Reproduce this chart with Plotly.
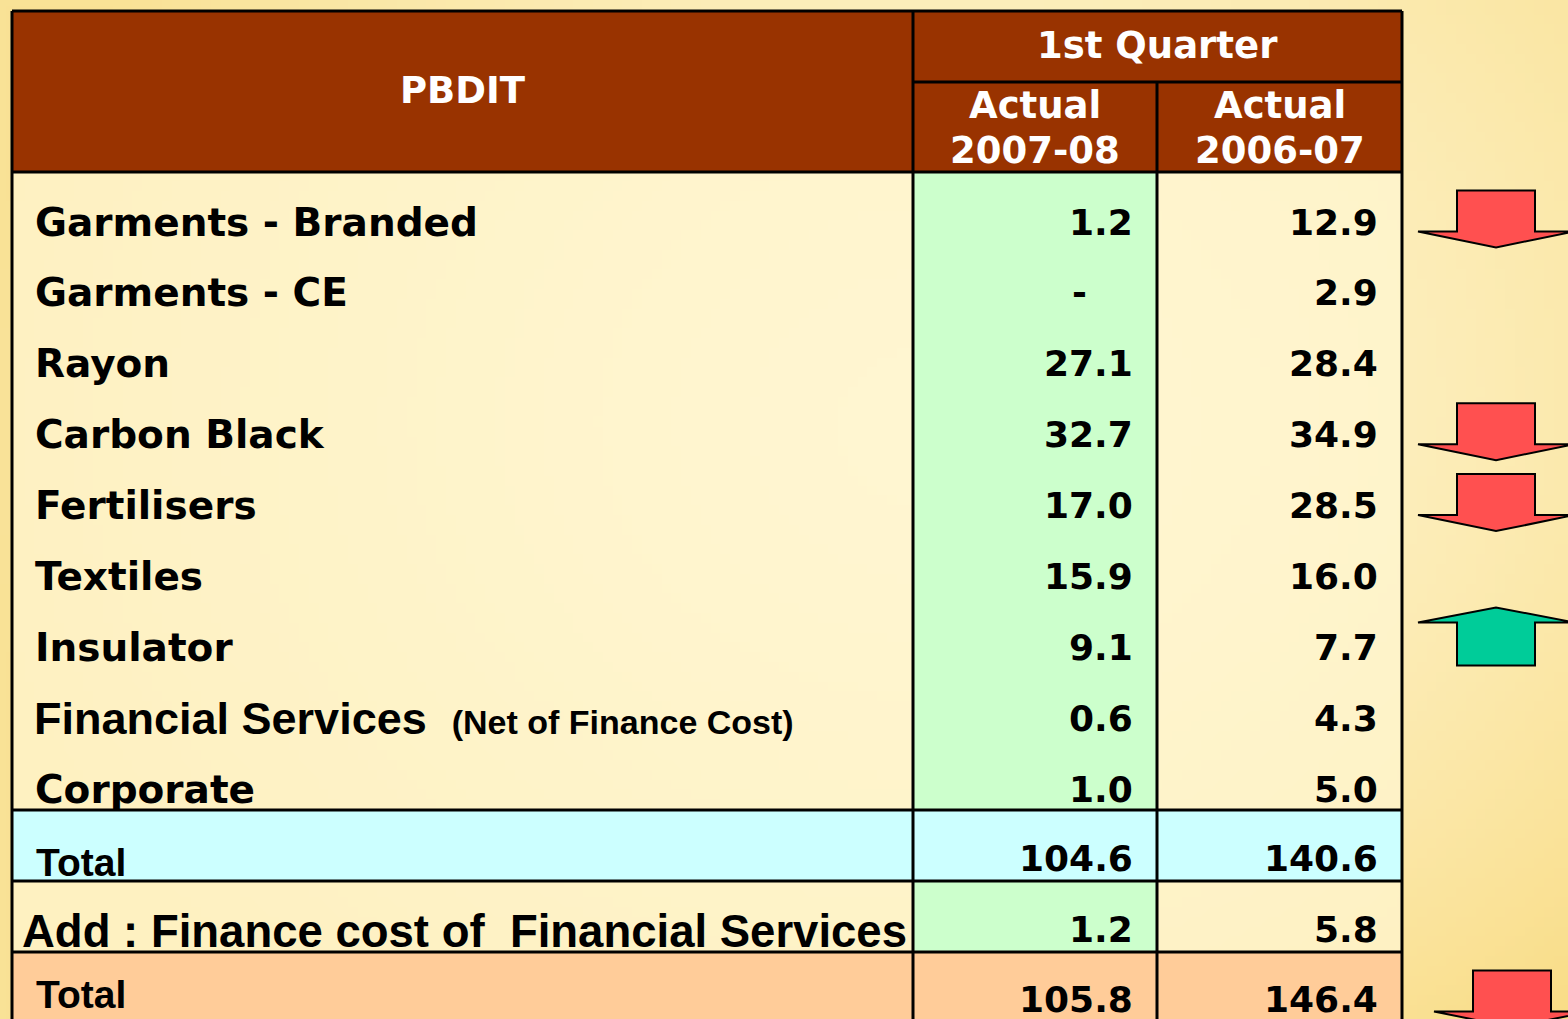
import base64, struct, zlib
import plotly.graph_objects as go

# ---------------- data ----------------
header_main = "PBDIT"
header_period = "1st Quarter"
col_headers = ["Actual<br>2007-08", "Actual<br>2006-07"]

segments = ["Garments - Branded", "Garments - CE", "Rayon", "Carbon Black",
            "Fertilisers", "Textiles", "Insulator", "Financial Services", "Corporate"]
segment_notes = ["", "", "", "", "", "", "", "(Net of Finance Cost)", ""]
q1_2007_08 = [1.2, None, 27.1, 32.7, 17.0, 15.9, 9.1, 0.6, 1.0]
q1_2006_07 = [12.9, 2.9, 28.4, 34.9, 28.5, 16.0, 7.7, 4.3, 5.0]

summary_labels = ["Total", "Add : Finance cost of  Financial Services", "Total"]
summary_2007_08 = [104.6, 1.2, 105.8]
summary_2006_07 = [140.6, 5.8, 146.4]

# trend arrows shown beside rows (row label -> direction)
arrow_rows = [("Garments - Branded", "down"), ("Carbon Black", "down"),
              ("Fertilisers", "down"), ("Insulator", "up"), ("Total#2", "down")]

# ---------------- styles / layout ----------------
W, H = 1568, 1019
X_LEFT, X_C1, X_C2, X_RIGHT = 12, 913, 1157, 1402
Y_TOP, Y_SUB, Y_HEAD = 11, 82, 172
ROW_H = 70.9
TEXT_OFF = 50
HEAD_BG = "#993300"
CREAM = "rgba(255,246,208,0.75)"
GREEN = "#CCFFCC"
CYAN = "#CCFFFF"
PEACH = "#FFCC99"
RED = "#FF5050"
TEAL = "#00CC99"
ARROW_CX = 1496
ARROW_DX = {"Total#2": 16}


def make_bg_png(w=160, h=104):
    light = (255, 246, 212)
    edge = (249, 226, 150)
    rows = []
    for j in range(h):
        row = bytearray([0])
        for i in range(w):
            dx = (i / (w - 1) - 0.6) / 0.62
            dy = (j / (h - 1) - 0.42) / 0.8
            t = min(1.0, (dx * dx + dy * dy) ** 0.5)
            t = t ** 1.4
            warm = max(0.0, (i / (w - 1)) * (j / (h - 1)))
            for k, c in enumerate(edge):
                ec = c - (0, 6, 18)[k] * warm
                row.append(int(light[k] + (ec - light[k]) * t))
        rows.append(bytes(row))
    raw = b"".join(rows)

    def chunk(tag, data):
        c = struct.pack(">I", len(data)) + tag + data
        return c + struct.pack(">I", zlib.crc32(tag + data) & 0xffffffff)

    png = b"\x89PNG\r\n\x1a\n"
    png += chunk(b"IHDR", struct.pack(">IIBBBBB", w, h, 8, 2, 0, 0, 0))
    png += chunk(b"IDAT", zlib.compress(raw, 9))
    png += chunk(b"IEND", b"")
    return "data:image/png;base64," + base64.b64encode(png).decode()


fig = go.Figure()
fig.add_trace(go.Scatter(x=[0, W], y=[0, H], mode="markers",
                         marker=dict(opacity=0), hoverinfo="skip", showlegend=False))

shapes = []
ann = []


def rect(x0, y0, x1, y1, fill):
    shapes.append(dict(type="rect", xref="x", yref="y", x0=x0, y0=y0, x1=x1, y1=y1,
                       fillcolor=fill, line=dict(width=0), layer="below"))


def line(x0, y0, x1, y1, w=3):
    shapes.append(dict(type="line", xref="x", yref="y", x0=x0, y0=y0, x1=x1, y1=y1,
                       line=dict(color="black", width=w), layer="above"))


def text(x, y, s, size, family="DejaVu Sans", color="black", xanchor="left", yanchor="middle"):
    ann.append(dict(x=x, y=y, xref="x", yref="y", text=s, showarrow=False,
                    xanchor=xanchor, yanchor=yanchor,
                    font=dict(family=family, size=size, color=color, weight=700)))


n = len(segments)
body_bottom = Y_HEAD + n * ROW_H
row_tops = [Y_HEAD + i * ROW_H for i in range(n)]
sum_tops = [body_bottom + i * ROW_H for i in range(len(summary_labels))]
sum_fills = [(CYAN, CYAN, CYAN), (CREAM, GREEN, CREAM), (PEACH, PEACH, PEACH)]

# header
rect(X_LEFT, Y_TOP, X_RIGHT, Y_HEAD, HEAD_BG)
# body
rect(X_LEFT, Y_HEAD, X_C1, body_bottom, CREAM)
rect(X_C1, Y_HEAD, X_C2, body_bottom, GREEN)
rect(X_C2, Y_HEAD, X_RIGHT, body_bottom, CREAM)
for top, fills in zip(sum_tops, sum_fills):
    rect(X_LEFT, top, X_C1, top + ROW_H, fills[0])
    rect(X_C1, top, X_C2, top + ROW_H, fills[1])
    rect(X_C2, top, X_RIGHT, top + ROW_H, fills[2])

# grid lines
bottom = H + 10
for x in (X_LEFT, X_C1, X_RIGHT):
    line(x, Y_TOP, x, bottom)
line(X_C2, Y_SUB, X_C2, bottom)
line(X_LEFT, Y_TOP, X_RIGHT, Y_TOP)
line(X_C1, Y_SUB, X_RIGHT, Y_SUB)
line(X_LEFT, Y_HEAD, X_RIGHT, Y_HEAD)
for top in sum_tops:
    line(X_LEFT, top, X_RIGHT, top)

# header text
text((X_LEFT + X_C1) / 2, 90, header_main, 37, color="white", xanchor="center")
text((X_C1 + X_RIGHT) / 2, 45, header_period, 37, color="white", xanchor="center")
for xc, h in zip(((X_C1 + X_C2) / 2, (X_C2 + X_RIGHT) / 2), col_headers):
    a, b = h.split("<br>")
    text(xc, 105, a, 37, color="white", xanchor="center")
    text(xc, 150, b, 37, color="white", xanchor="center")


def fmt(v):
    return "-" if v is None else f"{v:.1f}"


R1, R2 = X_C2 - 22, X_RIGHT - 22
row_y = {}
for i, (lab, note, v1, v2) in enumerate(zip(segments, segment_notes, q1_2007_08, q1_2006_07)):
    y = row_tops[i] + TEXT_OFF
    row_y[lab] = y
    if note:
        text(X_LEFT + 20, y, f"{lab} &nbsp;<span style='font-size:34px'>{note}</span>", 45,
             family="Liberation Sans")
    else:
        text(X_LEFT + 21, y, lab, 39)
    if v1 is None:
        text(R1 - 56, y, fmt(v1), 36, xanchor="center")
    else:
        text(R1, y, fmt(v1), 36, xanchor="right")
    text(R2, y, fmt(v2), 36, xanchor="right")

for k, (lab, v1, v2, top) in enumerate(zip(summary_labels, summary_2007_08, summary_2006_07, sum_tops)):
    y = top + TEXT_OFF
    row_y[lab if k == 0 else f"{lab}#{k}"] = y
    if lab.startswith("Add"):
        text(X_LEFT + 8, y, lab.replace("  ", " &nbsp;"), 45.5, family="Liberation Sans")
    elif k == len(summary_labels) - 1:
        text(X_LEFT + 22, H - 1, lab, 39, family="Liberation Sans", yanchor="bottom")
    else:
        text(X_LEFT + 22, y + 2, lab, 39, family="Liberation Sans")
    text(R1, y - 2, fmt(v1), 36, xanchor="right")
    text(R2, y - 2, fmt(v2), 36, xanchor="right")

# arrows
for key, d in arrow_rows:
    CX = ARROW_CX + ARROW_DX.get(key, 0)
    if d == "down":
        cy = row_y[key] - 3
        top, bot = cy - 28.5, cy + 28.5
        base = top + 41
        p = (f"M {CX-39},{top} L {CX+39},{top} L {CX+39},{base} L {CX+78},{base} "
             f"L {CX},{bot} L {CX-78},{base} L {CX-39},{base} Z")
        col = RED
    else:
        cy = row_y[key] - 11
        top, bot = cy - 29, cy + 29
        base = top + 15
        p = (f"M {CX-39},{bot} L {CX+39},{bot} L {CX+39},{base} L {CX+78},{base} "
             f"L {CX},{top} L {CX-78},{base} L {CX-39},{base} Z")
        col = TEAL
    shapes.append(dict(type="path", xref="x", yref="y", path=p, fillcolor=col,
                       line=dict(color="black", width=2), layer="above"))

fig.update_layout(
    width=W, height=H, margin=dict(l=0, r=0, t=0, b=0),
    paper_bgcolor="#FBE9B0", plot_bgcolor="rgba(0,0,0,0)",
    xaxis=dict(range=[0, W], visible=False, fixedrange=True),
    yaxis=dict(range=[H, 0], visible=False, fixedrange=True),
    shapes=shapes, annotations=ann, showlegend=False,
    images=[dict(source=make_bg_png(), xref="paper", yref="paper", x=0, y=1,
                 sizex=1, sizey=1, sizing="stretch", xanchor="left", yanchor="top",
                 layer="below")],
)

fig.write_html("out.html", config={"displayModeBar": False},
               post_script="document.body.style.margin='0';document.body.style.overflow='hidden';")
